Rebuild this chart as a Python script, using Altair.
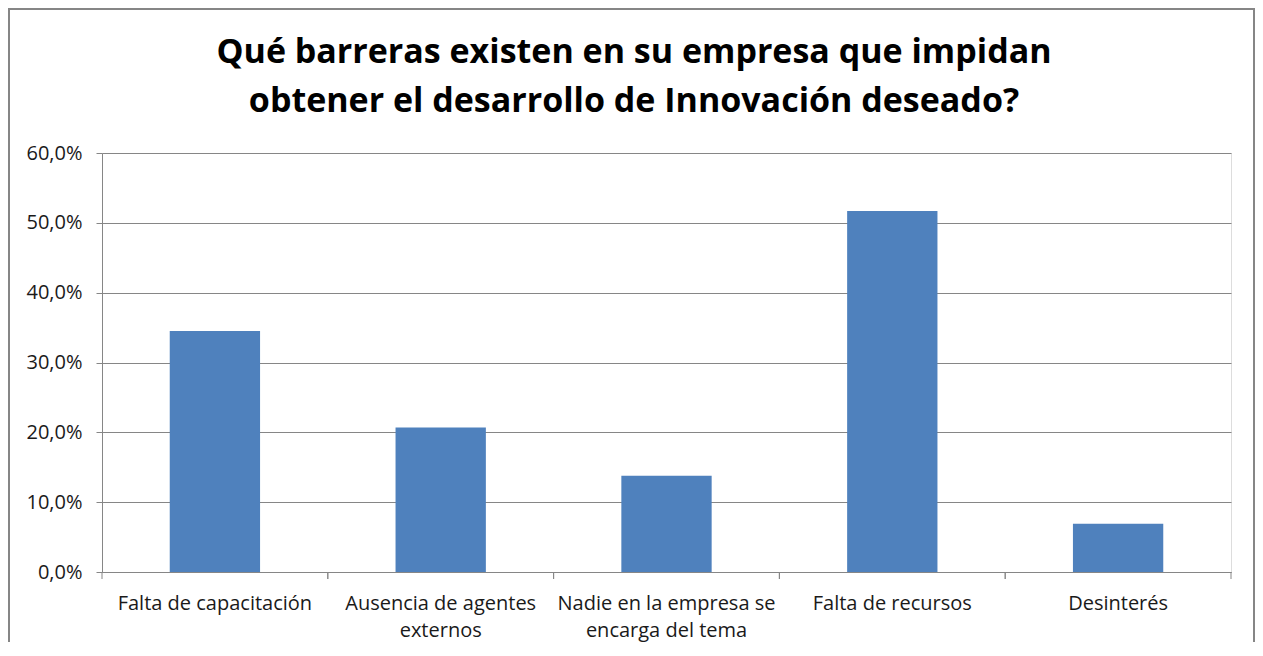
import altair as alt
import pandas as pd

categories = [
    "Falta de capacitación",
    "Ausencia de agentes|externos",
    "Nadie en la empresa se|encarga del tema",
    "Falta de recursos",
    "Desinterés",
]
values = [0.345, 0.207, 0.138, 0.517, 0.069]
y_ticks = [0.0, 0.1, 0.2, 0.3, 0.4, 0.5, 0.6]
title_lines = ["Qué barreras existen en su empresa que impidan",
               "obtener el desarrollo de Innovación deseado?"]

df = pd.DataFrame({"cat": categories, "val": values})

W, H = 1129, 419
GRAY = "#868686"
FONT = "Open Sans"

x_enc = alt.X(
    "cat:N", sort=None, title=None,
    scale=alt.Scale(paddingInner=0, paddingOuter=0),
    axis=alt.Axis(
        labelAngle=0, ticks=False, domainColor=GRAY, domainWidth=1,
        labelExpr="split(datum.label, '|')", labelFont=FONT, labelFontSize=20,
        labelColor="#1a1a1a", labelPadding=21, labelLineHeight=27,
        labelBaseline="top", labelLimit=400,
    ),
)
y_enc = alt.Y(
    "val:Q", title=None,
    scale=alt.Scale(domain=[0, 0.6], nice=False),
    axis=alt.Axis(
        values=y_ticks, labelExpr="replace(format(datum.value, '.1%'), '.', ',')",
        gridColor=GRAY, gridWidth=1, domainColor=GRAY, tickColor=GRAY, tickSize=6,
        labelFont=FONT, labelFontSize=20, labelColor="#1a1a1a", labelPadding=14,
    ),
)

bars = alt.Chart(df).mark_bar(
    width=alt.RelativeBandSize(0.4), color="#4F81BD"
).encode(x=x_enc, y=y_enc)

tick_l = alt.Chart(df).mark_rule(color=GRAY, strokeWidth=1).encode(
    x=alt.X("cat:N", sort=None, bandPosition=0),
    y=alt.value(H), y2=alt.value(H + 7),
)
tick_r = alt.Chart(df).mark_rule(color=GRAY, strokeWidth=1).encode(
    x=alt.X("cat:N", sort=None, bandPosition=1),
    y=alt.value(H), y2=alt.value(H + 7),
)

frame = alt.Chart(df.head(1)).mark_rect(
    fill=None, stroke=GRAY, strokeWidth=2
).encode(
    x=alt.value(-93), x2=alt.value(W + 23),
    y=alt.value(-144), y2=alt.value(H + 200),
)

title = alt.Chart(df.head(1)).mark_text(
    font=FONT, fontSize=34, fontWeight="bold", color="#000000",
    align="center", baseline="alphabetic", lineHeight=49,
).encode(
    x=alt.value(532), y=alt.value(-90), text=alt.value(title_lines),
)

chart = alt.layer(bars, tick_l, tick_r, frame, title).properties(
    width=W, height=H,
    autosize=alt.AutoSizeParams(type="none"),
    padding={"left": 94, "top": 145, "right": 24, "bottom": 70},
).configure_view(stroke=None).configure(background="white")

chart.save("out.html", embed_options={"renderer": "svg", "actions": False})
